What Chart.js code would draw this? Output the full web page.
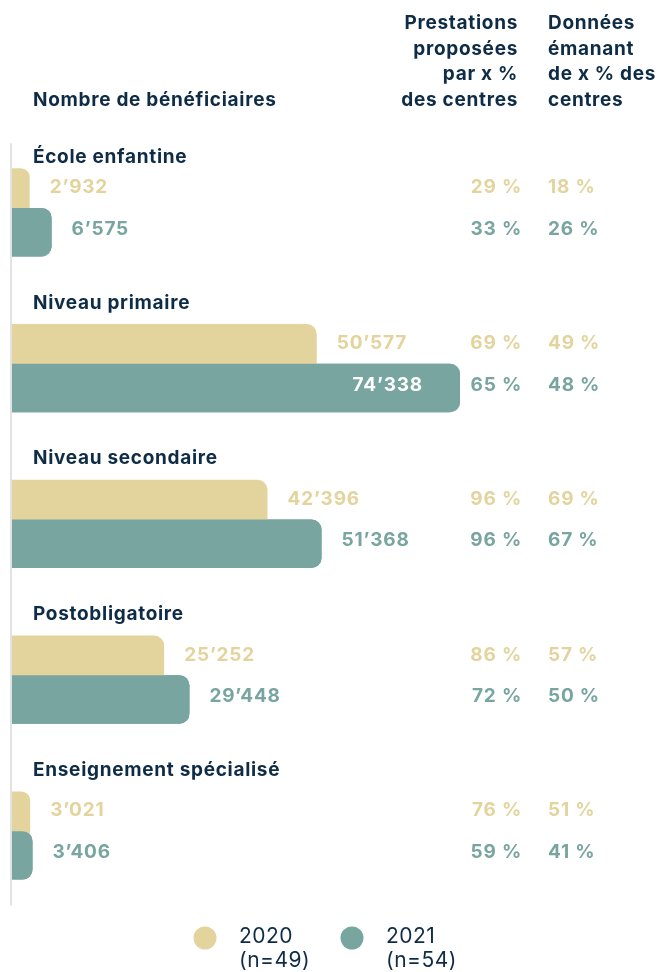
<!DOCTYPE html>
<html lang="fr">
<head>
<meta charset="utf-8">
<title>Nombre de bénéficiaires</title>
<script src="https://cdn.jsdelivr.net/npm/chart.js@4.4.1/dist/chart.umd.min.js"></script>
<style>
  html, body { margin: 0; padding: 0; background: #fff; }
  #wrap { width: 657px; height: 972px; }
</style>
</head>
<body>
<div id="wrap"><canvas id="myChart" width="657" height="972"></canvas></div>
<script>
// Données
const categories = ['École enfantine', 'Niveau primaire', 'Niveau secondaire', 'Postobligatoire', 'Enseignement spécialisé'];
const beneficiaires2020 = [2932, 50577, 42396, 25252, 3021];
const beneficiaires2021 = [6575, 74338, 51368, 29448, 3406];
const prestations2020 = [29, 69, 96, 86, 76];
const prestations2021 = [33, 65, 96, 72, 59];
const donnees2020 = [18, 49, 69, 57, 51];
const donnees2021 = [26, 48, 67, 50, 41];
const seriesLabels = ['2020', '2021'];
const seriesNotes = ['(n=49)', '(n=54)'];

const NAVY = '#0e2c45';
const TAN = '#e3d49e';
const TEAL = '#78a5a0';
const FONT = 'Inter, "Noto Sans", sans-serif';

const fmt = v => String(v).replace(/\B(?=(\d{3})+(?!\d))/g, '\u2019');

// Décalage des titres de catégorie par rapport au centre du groupe
const titleOffsets = [-49.5, -59.5, -59.5, -59.5, -59.5];

const overlayPlugin = {
    id: 'overlay',
    afterDatasetsDraw(chart) {
        const ctx = chart.ctx;
        const area = chart.chartArea;
        const yScale = chart.scales.y;

        // la barre 2021 passe au-dessus de la barre 2020
        chart.getDatasetMeta(1).controller.draw();

        ctx.save();

        // axe vertical
        ctx.strokeStyle = '#d9d9d9';
        ctx.lineWidth = 1.5;
        ctx.beginPath();
        ctx.moveTo(area.left - 1, yScale.getPixelForValue(0) - 69);
        ctx.lineTo(area.left - 1, yScale.getPixelForValue(categories.length - 1) + 70);
        ctx.stroke();

        // en-têtes
        ctx.fillStyle = NAVY;
        ctx.font = 'bold 19px ' + FONT;
        ctx.letterSpacing = '0.7px';
        ctx.textBaseline = 'alphabetic';
        ctx.textAlign = 'left';
        ctx.fillText('Nombre de bénéficiaires', 33, 106);
        const head1 = ['Prestations', 'proposées', 'par x %', 'des centres'];
        const head2 = ['Données', 'émanant', 'de x % des', 'centres'];
        head1.forEach((t, i) => {
            ctx.textAlign = 'right';
            ctx.fillText(t, 518, 29 + i * 25.6);
        });
        head2.forEach((t, i) => {
            ctx.textAlign = 'left';
            ctx.fillText(t, 548, 29 + i * 25.6);
        });

        // titres des catégories
        categories.forEach((c, i) => {
            ctx.textAlign = 'left';
            ctx.fillText(c, 33, yScale.getPixelForValue(i) + titleOffsets[i]);
        });

        // valeurs et pourcentages
        const pct1 = [prestations2020, prestations2021];
        const pct2 = [donnees2020, donnees2021];
        const colors = [TAN, TEAL];
        ctx.font = 'bold 19px ' + FONT;
        ctx.letterSpacing = '0.8px';
        ctx.textBaseline = 'middle';
        [0, 1].forEach(d => {
            const meta = chart.getDatasetMeta(d);
            const values = chart.data.datasets[d].data;
            meta.data.forEach((bar, i) => {
                const ly = bar.y + (d === 0 ? -5 : -3);
                const txt = fmt(values[i]);
                const w = ctx.measureText(txt).width;
                if (bar.x + 21 + w > 462) {
                    ctx.fillStyle = '#ffffff';
                    ctx.textAlign = 'right';
                    ctx.fillText(txt, bar.x - 37, ly);
                } else {
                    ctx.fillStyle = colors[d];
                    ctx.textAlign = 'left';
                    ctx.fillText(txt, bar.x + 20, ly);
                }
                ctx.fillStyle = colors[d];
                ctx.textAlign = 'right';
                ctx.fillText(pct1[d][i] + ' %', 522, ly);
                ctx.textAlign = 'left';
                ctx.fillText(pct2[d][i] + ' %', 548, ly);
            });
        });

        // légende
        const legendX = [205, 352];
        ctx.font = '21px ' + FONT;
        ctx.letterSpacing = '0.5px';
        legendX.forEach((x, d) => {
            ctx.fillStyle = colors[d];
            ctx.beginPath();
            ctx.arc(x, 938, 11.5, 0, Math.PI * 2);
            ctx.fill();
            ctx.fillStyle = NAVY;
            ctx.textAlign = 'left';
            ctx.fillText(seriesLabels[d], x + 34, 937);
            ctx.fillText(seriesNotes[d], x + 34, 961);
        });

        ctx.restore();
    }
};

const ctx = document.getElementById('myChart');
new Chart(ctx.getContext('2d'), {
    type: 'bar',
    data: {
        labels: categories,
        datasets: [
            {
                label: seriesLabels[0],
                data: beneficiaires2020,
                backgroundColor: TAN,
                borderRadius: 10,
                borderSkipped: 'start'
            },
            {
                label: seriesLabels[1],
                data: beneficiaires2021,
                backgroundColor: TEAL,
                borderRadius: 10,
                borderSkipped: 'start'
            }
        ]
    },
    options: {
        indexAxis: 'y',
        responsive: false,
        animation: false,
        categoryPercentage: 0.51,
        barPercentage: 1.22,
        layout: {
            padding: { left: 12, right: 42.4, top: 134.4, bottom: 58.6 }
        },
        plugins: {
            legend: { display: false },
            tooltip: { enabled: false }
        },
        scales: {
            x: { display: false, min: 0, max: 100000 },
            y: { display: false }
        }
    },
    plugins: [overlayPlugin]
});
</script>
</body>
</html>
